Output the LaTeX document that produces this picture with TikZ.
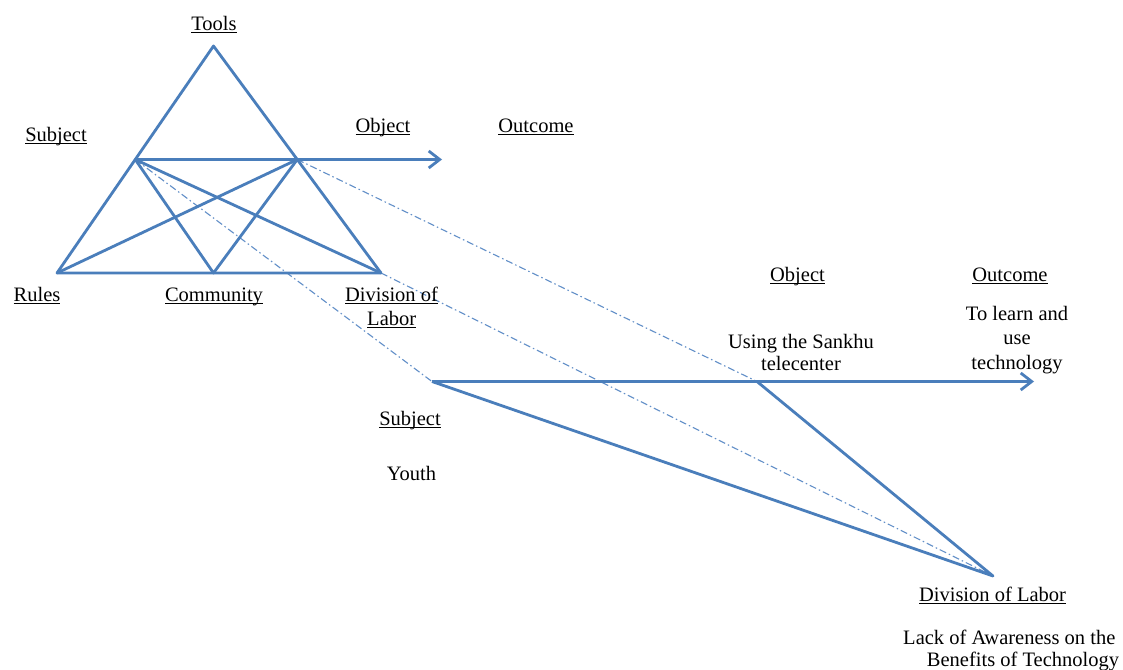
\documentclass[tikz,border=0pt]{standalone}
\usepackage{fontspec}
\setmainfont{Liberation Serif}
\usetikzlibrary{calc,arrows.meta}
\definecolor{lineblue}{RGB}{74,126,187}
\definecolor{dashblue}{RGB}{98,143,200}
\newcommand\uln[1]{\setbox0\hbox{#1}\rlap{\vrule height -1.6pt depth 2.6pt width \wd0}\box0}
\begin{document}
\begin{tikzpicture}[x=1pt,y=-1pt,
  solidline/.style={draw=lineblue,line width=2.8pt,line join=round},
  dashline/.style={draw=dashblue,line width=1.1pt,dash pattern=on 7pt off 3pt on 1.5pt off 3pt},
  arrowline/.style={solidline,-{Straight Barb[length=11pt,width=17pt]}},
  lbl/.style={anchor=base,inner sep=0pt,font=\fontsize{20.5}{23}\selectfont}]
\useasboundingbox (0,0) rectangle (1123,669);
\fill[white] (0,0) rectangle (1123,669);
% vertices
\coordinate (T) at (213.5,46);
\coordinate (R) at (57,273);
\coordinate (D) at (381,273);
\coordinate (C) at (213.5,273);
\coordinate (S) at ($(T)!0.5!(R)$);
\coordinate (O) at ($(T)!0.5!(D)$);
\coordinate (A1) at (442,159.5);
\coordinate (LS) at (432,381.5);
\coordinate (LO) at (757,381.5);
\coordinate (A2) at (1034,381.5);
\coordinate (LD) at (993,576);
% dash-dot links
\draw[dashline] (O) -- (LO);
\draw[dashline] (D) -- (LD);
\draw[dashline] (S) -- (LS);
% upper triangle
\draw[solidline] (T) -- (R) -- (D) -- cycle;
\draw[solidline] (S) -- (C) -- (O);
\draw[solidline] (S) -- (D);
\draw[solidline] (R) -- (O);
\draw[arrowline] (S) -- (A1);
% lower triangle
\draw[solidline] (LS) -- (LD) -- (LO);
\draw[arrowline] (LS) -- (A2);
% labels
\node[lbl] (tools) at (214,30.7) {\uln{Tools}};
\node[lbl] (subj1) at (56,141.7) {\uln{Subject}};
\node[lbl] (obj1) at (383,132.7) {\uln{Object}};
\node[lbl] (out1) at (536,132.7) {\uln{Outcome}};
\node[lbl] (rules) at (37,301.7) {\uln{Rules}};
\node[lbl] (comm) at (214,301.7) {\uln{Community}};
\node[lbl] (div1a) at (391.5,301.7) {\uln{Division of}};
\node[lbl] (div1b) at (391.7,325) {\uln{Labor}};
\node[lbl] (obj2) at (797.5,281.7) {\uln{Object}};
\node[lbl] (out2) at (1010,281.7) {\uln{Outcome}};
\node[lbl] (learn1) at (1017,320) {To learn and};
\node[lbl] (learn2) at (1017,344.5) {use};
\node[lbl] (learn3) at (1017,369) {technology};
\node[lbl] (using1) at (801,348) {Using the Sankhu};
\node[lbl] (using2) at (801,370) {telecenter};
\node[lbl] (subj2) at (410,425) {\uln{Subject}};
\node[lbl] (youth) at (411.5,480) {Youth};
\node[lbl] (div2) at (992.5,601.7) {\uln{Division of Labor}};
\node[lbl] (lack1) at (1009.3,644.3) {Lack of Awareness on the};
\node[lbl] (lack2) at (1023,666.5) {Benefits of Technology};
\end{tikzpicture}
\end{document}
